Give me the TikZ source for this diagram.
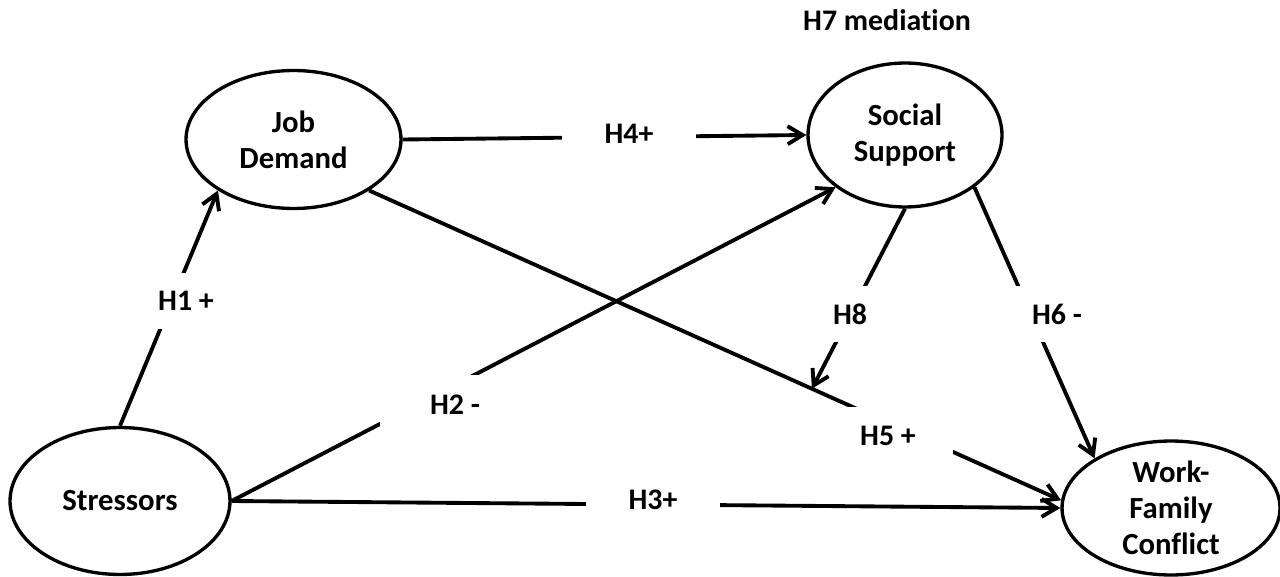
\documentclass[tikz,border=0pt]{standalone}
\usepackage{fontspec}
\setmainfont{Carlito}[Ligatures=NoCommon]
\usetikzlibrary{shapes.geometric, arrows.meta}

\tikzset{
  construct/.style={draw, ellipse, line width=1.9pt, inner sep=0pt, align=center,
    font=\bfseries\fontsize{17.5}{20.5}\selectfont},
  hyp/.style={fill=white, inner sep=0pt, minimum width=2.7cm, minimum height=1.14cm,
    font=\bfseries\fontsize{17}{20}\selectfont},
  link/.style={line width=2.2pt, -{Straight Barb[length=3mm,width=3.6mm]}}
}

\begin{document}
\begin{tikzpicture}[x=0.02cm, y=-0.02cm]
  \useasboundingbox (0,0) rectangle (1280,577);

  % constructs
  \node[construct, minimum width=4.4cm, minimum height=2.94cm] (stress) at (120,501) {Stressors};
  \node[construct, minimum width=4.3cm, minimum height=2.76cm] (jd) at (293.5,139.5) {Job\\Demand};
  \node[construct, minimum width=3.88cm, minimum height=2.88cm] (ss) at (905,135) {Social\\Support};
  \node[construct, minimum width=4.36cm, minimum height=2.68cm] (wfc) at (1171,508) {Work-\\Family\\Conflict};

  % paths
  \path[link] (stress.north) edge (jd.214);
  \path[link] (stress.east) edge (ss.217);
  \path[link] (stress.east) edge (wfc.west);
  \path[link] (jd.east) edge (ss.west);
  \path[link] (jd.326) edge node[coordinate, pos=0.64] (mod) {} (wfc.176);
  \path[link] (ss.323) edge (wfc.147);
  \path[link] (ss.south) edge (mod);

  % hypotheses
  \node[hyp] (h1) at (186,301) {H1 +};
  \node[hyp, minimum width=3cm, minimum height=1.2cm] (h2) at (455,405) {H2 -};
  \node[hyp] (h3) at (653,500) {H3+};
  \node[hyp] (h4) at (629,134) {H4+};
  \node[hyp, minimum width=2.6cm, minimum height=1.16cm] (h5) at (888,436) {H5 +};
  \node[hyp, minimum width=2.6cm] (h6) at (1057,314) {H6 -};
  \node[hyp, minimum width=2.6cm] (h8) at (850,314) {H8};
  \node[font=\bfseries\fontsize{17}{20}\selectfont] (h7) at (887,20) {H7 mediation};
\end{tikzpicture}
\end{document}
